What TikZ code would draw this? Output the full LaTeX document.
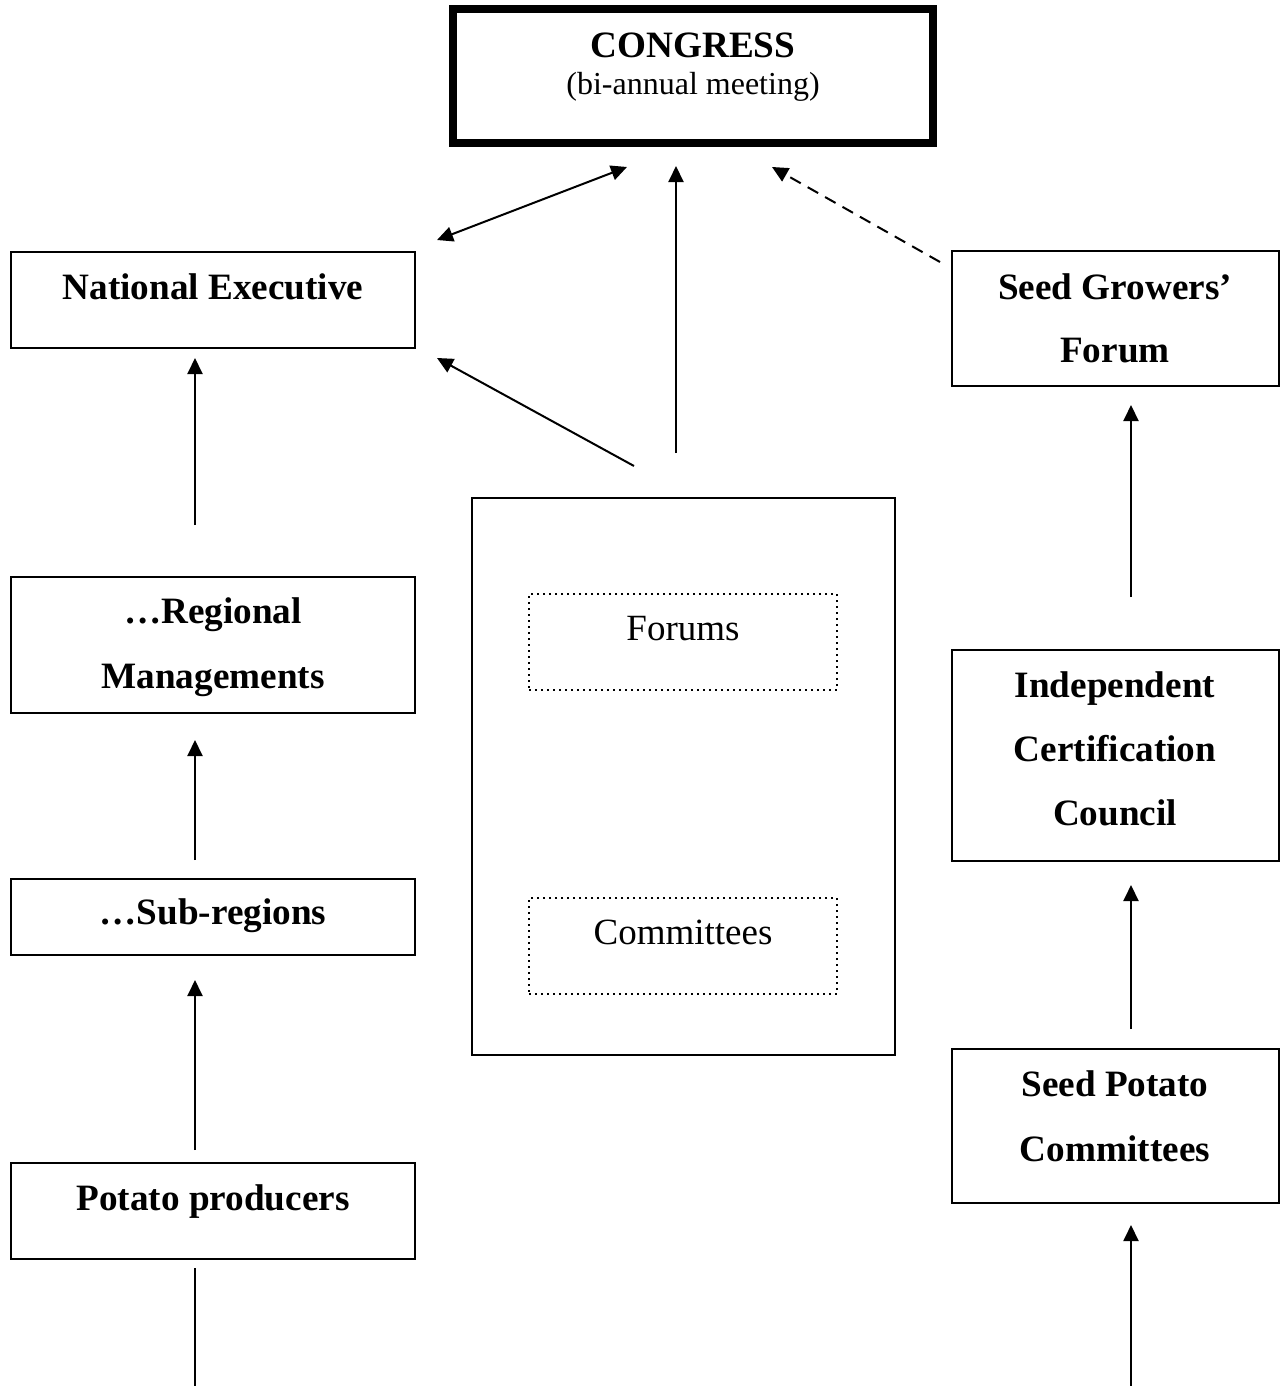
\documentclass[tikz,border=0pt]{standalone}
\usepackage{fontspec}
\setmainfont{Liberation Serif}
\usetikzlibrary{arrows.meta}
\begin{document}
\begin{tikzpicture}[x=0.5pt,y=-0.5pt,
  boxline/.style={draw=black,line width=1pt,inner sep=0pt,fill=none},
  dotbox/.style={draw=black,line width=1pt,dotted,inner sep=0pt},
  btxt/.style={font=\fontsize{18.6}{22}\selectfont\bfseries,anchor=base,inner sep=0pt},
  rtxt/.style={font=\fontsize{18.5}{22}\selectfont,anchor=base,inner sep=0pt},
  stxt/.style={font=\fontsize{16}{19}\selectfont,anchor=base,inner sep=0pt},
  arr/.style={line width=1pt,-{Triangle[length=8pt,width=7.5pt]}},
  darr/.style={line width=1pt,{Triangle[length=8pt,width=7.5pt]}-{Triangle[length=8pt,width=7.5pt]}},
  plain/.style={line width=1pt}]
\useasboundingbox (0,0) rectangle (1288,1386);
% boxes
\node[draw=black,line width=4pt,inner sep=0pt,minimum width=240pt,minimum height=67pt] (congress) at (693,76) {};
\node[boxline,minimum width=202pt,minimum height=48pt] (ne) at (213,300) {};
\node[boxline,minimum width=202pt,minimum height=68pt] (rm) at (213,645) {};
\node[boxline,minimum width=202pt,minimum height=38pt] (sr) at (213,917) {};
\node[boxline,minimum width=202pt,minimum height=48pt] (pp) at (213,1211) {};
\node[boxline,minimum width=163.5pt,minimum height=67.5pt] (sgf) at (1115.5,318.5) {};
\node[boxline,minimum width=163.5pt,minimum height=105.5pt] (icc) at (1115.5,755.5) {};
\node[boxline,minimum width=163.5pt,minimum height=77pt] (spc) at (1115.5,1126) {};
\node[boxline,minimum width=211.5pt,minimum height=278.5pt] (center) at (683.5,776.5) {};
\node[dotbox,minimum width=154pt,minimum height=48pt] (forums) at (683,642) {};
\node[dotbox,minimum width=154pt,minimum height=48pt] (comm) at (683,946) {};
% texts
\node[btxt] (t1) at (693,58) {CONGRESS};
\node[stxt] (t2) at (693,95) {(bi-annual meeting)};
\node[btxt] (t3) at (213,299) {National Executive};
\node[btxt] (t4) at (213,623) {…Regional};
\node[btxt] (t5) at (213,688) {Managements};
\node[btxt] (t6) at (213,924) {…Sub-regions};
\node[btxt] (t7) at (213,1210) {Potato producers};
\node[btxt] (t8) at (1115,299) {Seed Growers’};
\node[btxt] (t9) at (1115,362) {Forum};
\node[btxt] (t10) at (1115,697) {Independent};
\node[btxt] (t11) at (1115,761) {Certification};
\node[btxt] (t12) at (1115,825) {Council};
\node[btxt] (t13) at (1115,1096) {Seed Potato};
\node[btxt] (t14) at (1115,1161) {Committees};
\node[rtxt] (t15) at (683,640) {Forums};
\node[rtxt] (t16) at (683,944) {Committees};
% arrow end points
\coordinate (a1s) at (437,240); \coordinate (a1e) at (627,167);
\coordinate (a2s) at (634,466); \coordinate (a2e) at (437,358);
\coordinate (a3s) at (676,453); \coordinate (a3e) at (676,166);
\coordinate (a4s) at (940,262); \coordinate (a4e) at (772,167);
\coordinate (l1s) at (195,525); \coordinate (l1e) at (195,358);
\coordinate (l2s) at (195,860); \coordinate (l2e) at (195,740);
\coordinate (l3s) at (195,1150); \coordinate (l3e) at (195,980);
\coordinate (l4s) at (195,1386); \coordinate (l4e) at (195,1268);
\coordinate (r1s) at (1131,597); \coordinate (r1e) at (1131,405);
\coordinate (r2s) at (1131,1029); \coordinate (r2e) at (1131,885);
\coordinate (r3s) at (1131,1386); \coordinate (r3e) at (1131,1225);
% arrows
\draw[darr] (a1s) -- (a1e);
\draw[arr] (a2s) -- (a2e);
\draw[arr] (a3s) -- (a3e);
\draw[arr,dashed,dash pattern=on 6pt off 4pt] (a4s) -- (a4e);
\draw[arr] (l1s) -- (l1e);
\draw[arr] (l2s) -- (l2e);
\draw[arr] (l3s) -- (l3e);
\draw[plain] (l4s) -- (l4e);
\draw[arr] (r1s) -- (r1e);
\draw[arr] (r2s) -- (r2e);
\draw[arr] (r3s) -- (r3e);
\end{tikzpicture}
\end{document}
